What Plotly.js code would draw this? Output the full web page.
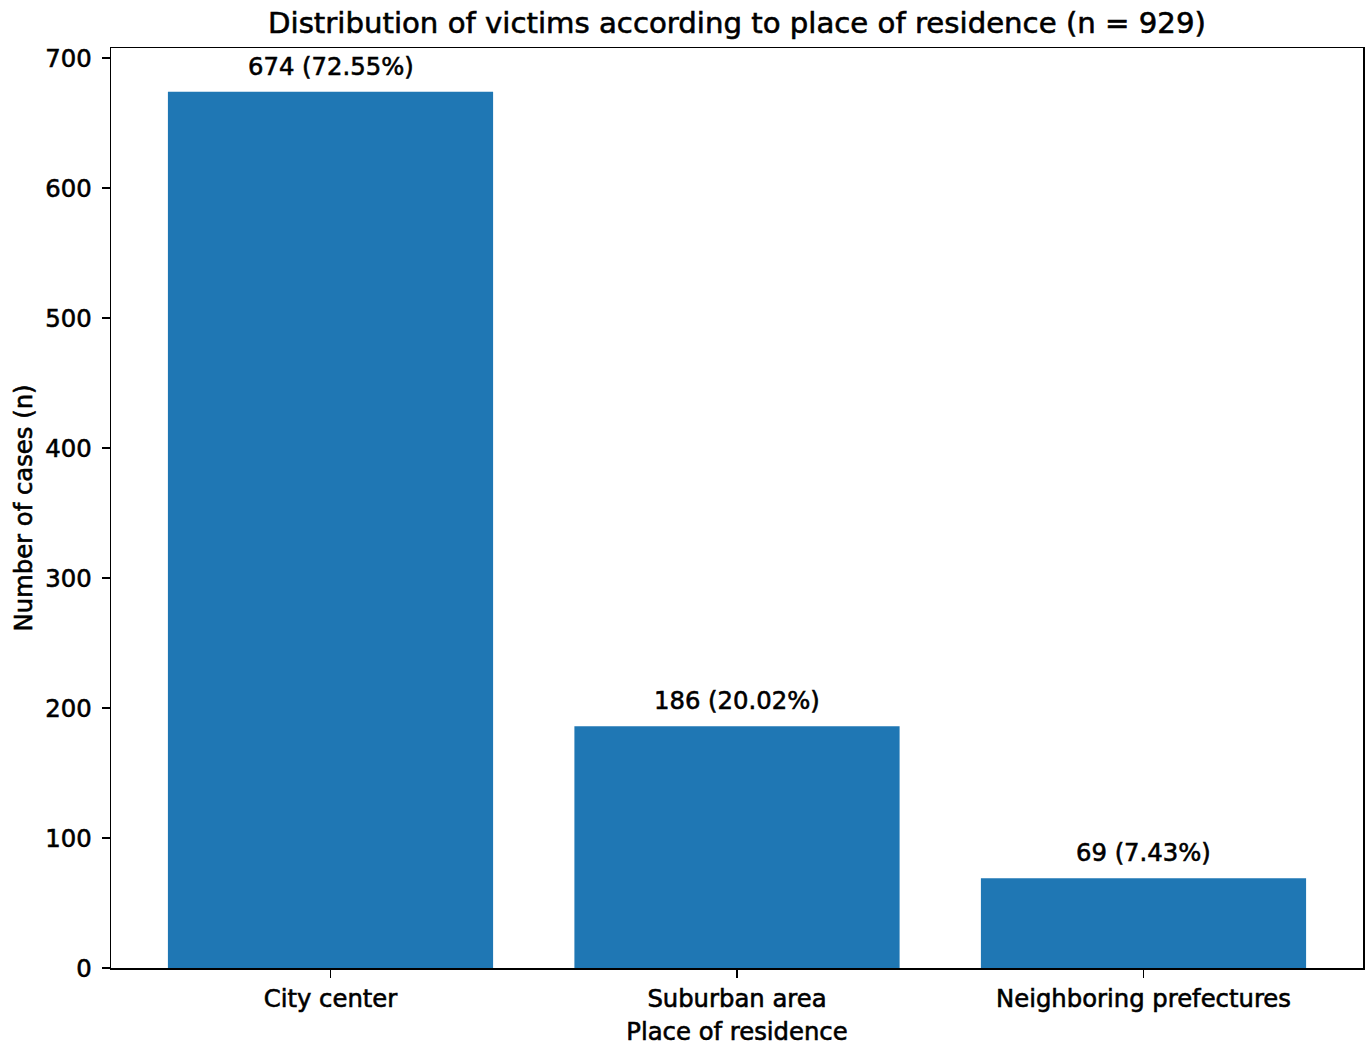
<!DOCTYPE html>
<html>
<head>
<meta charset="utf-8">
<script src="https://cdn.plot.ly/plotly-3.0.1.min.js"></script>
<style>
html,body{margin:0;padding:0;background:#fff;}
#chart{width:1370px;height:1056px;}
#chart svg text{stroke:#000;stroke-width:0.6px;}
</style>
</head>
<body>
<div id="chart"></div>
<script>
const categories = ["City center", "Suburban area", "Neighboring prefectures"];
const counts = [674, 186, 69];
const percents = ["72.55%", "20.02%", "7.43%"];
const yTicks = [0, 100, 200, 300, 400, 500, 600, 700];

const FONT = "DejaVu Sans, Verdana, sans-serif";
const FS = 24.3;
const xIdx = categories.map((c, i) => i);

const trace = {
  type: "bar",
  x: xIdx,
  y: counts,
  width: 0.8,
  marker: { color: "#1f77b4", line: { width: 0 } },
  hoverinfo: "skip"
};

const annotations = counts.map((v, i) => ({
  x: i, y: v, xref: "x", yref: "y",
  text: v + " (" + percents[i] + ")",
  showarrow: false,
  yanchor: "bottom",
  yshift: 9,
  font: { family: FONT, size: FS, color: "#000" }
}));

const layout = {
  width: 1370, height: 1056,
  margin: { l: 111, r: 7, t: 48, b: 88, pad: 0 },
  paper_bgcolor: "#fff", plot_bgcolor: "#fff",
  showlegend: false,
  font: { family: FONT, color: "#000", size: FS },
  title: {
    text: "Distribution of victims according to place of residence (n = 929)",
    font: { family: FONT, size: 29.2, color: "#000" },
    x: 0.5, xanchor: "center", xref: "paper",
    y: 1 - 23 / 1056, yanchor: "middle", yref: "container"
  },
  xaxis: {
    range: [-0.54, 2.54],
    tickmode: "array", tickvals: xIdx, ticktext: categories,
    ticks: "outside", ticklen: 8, tickwidth: 1.5, tickcolor: "#000",
    ticklabelstandoff: 0,
    showline: true, linecolor: "#000", linewidth: 1.5, mirror: true,
    showgrid: false, zeroline: false,
    tickfont: { family: FONT, size: FS, color: "#000" },
    title: { text: "Place of residence", font: { family: FONT, size: FS, color: "#000" }, standoff: 11 }
  },
  yaxis: {
    range: [0, 707.7],
    tickmode: "array", tickvals: yTicks,
    ticks: "outside", ticklen: 8, tickwidth: 1.5, tickcolor: "#000",
    ticklabelstandoff: 5,
    showline: true, linecolor: "#000", linewidth: 1.5, mirror: true,
    showgrid: false, zeroline: false,
    tickfont: { family: FONT, size: FS, color: "#000" },
    title: { text: "Number of cases (n)", font: { family: FONT, size: FS, color: "#000" }, standoff: 5 }
  },
  annotations: annotations,
  bargap: 0.2
};

Plotly.newPlot("chart", [trace], layout, { displayModeBar: false, staticPlot: true });
</script>
</body>
</html>
